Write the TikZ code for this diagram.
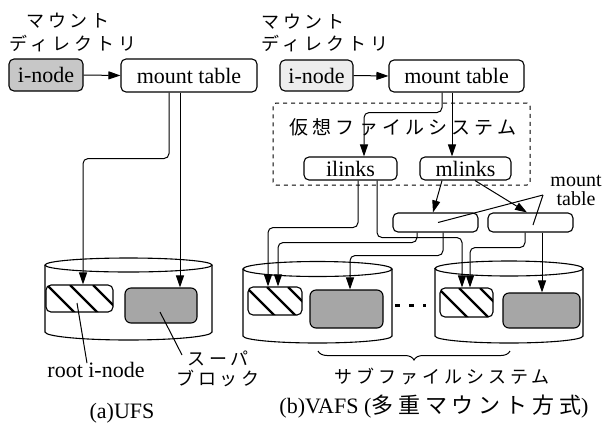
\documentclass[tikz,border=0pt]{standalone}
\usepackage{fontspec}
\setmainfont{Liberation Serif}
\newfontfamily\jp[LetterSpace=22]{Noto Sans CJK JP}
\usetikzlibrary{arrows.meta,calc,decorations.pathreplacing}
\tikzset{
  box/.style={draw, line width=1.1pt, rounded corners=5pt, inner sep=0pt, font=\fontsize{22}{24}\selectfont},
  hatchbox/.style={draw, line width=1.1pt, rounded corners=5pt, inner sep=0pt,
    path picture={\foreach \s in {#1}{\draw[line width=2.2pt] ($(path picture bounding box.north west)+(\s,0)$) -- ++(40,40);}}},
  sbbox/.style={draw, line width=1.1pt, rounded corners=6pt, fill=black!35, inner sep=0pt},
  arr/.style={-{Triangle[length=12pt,width=8pt]}, line width=1pt},
  rc/.style={rounded corners=5pt},
  ln/.style={line width=1pt},
  cyl/.style={line width=1.1pt},
  jpl/.style={font=\fontsize{18}{20}\selectfont\jp, inner sep=0pt, align=center},
  latl/.style={font=\fontsize{22}{16}\selectfont, inner sep=0pt, align=center}
}
\begin{document}
\begin{tikzpicture}[x=1pt,y=-1pt]
\useasboundingbox (0,0) rectangle (607,424);
% ---------- (a) UFS ----------
\node[jpl] (mdA1) at (68,21) {マウント};
\node[jpl] (mdA2) at (73,44) {ディレクトリ};
\node[box, fill=black!22, minimum width=74pt, minimum height=32pt] (inA) at (46,75) {i-node};
\node[box, minimum width=136pt, minimum height=33pt] (mtA) at (189,75.5) {mount table};
\draw[arr] (inA.east) -- (mtA.west);
% disk A
\draw[cyl] (128.5,265) ellipse [x radius=83.5, y radius=7];
\draw[cyl] (45,265) -- (45,332) arc[start angle=180, end angle=0, x radius=83.5, y radius=8] -- (212,265);
\node[hatchbox={1,24,47}, minimum width=67pt, minimum height=27pt] (riA) at (79.5,298.5) {};
\node[sbbox, minimum width=72pt, minimum height=35pt] (sbA) at (161,305.5) {};
\draw[arr, rc] ([xshift=-20pt]mtA.south) -- ++(0,66) -| ([xshift=3.5pt]riA.north);
\draw[arr] ([xshift=-9pt]mtA.south) -- ([xshift=-9pt]mtA.south |- sbA.north);
\node[latl] (rilab) at (96,370) {root i-node};
\draw[ln] ([xshift=-9pt,yshift=-1pt]rilab.north) -- ([xshift=-2.5pt,yshift=-4.5pt]riA.center);
\node[jpl] (sblab) at (218,369) {スーパ\\ブロック};
\coordinate (sbp) at (182,355);
\draw[ln] (sbp) -- ([xshift=-1pt,yshift=-6.5pt]sbA.center);
\node[latl] (capA) at (122,413) {(a)UFS};
% ---------- (b) VAFS ----------
\node[jpl] (mdB1) at (303,22) {マウント};
\node[jpl] (mdB2) at (325,44) {ディレクトリ};
\node[box, fill=black!7, minimum width=73pt, minimum height=31pt] (inB) at (316.5,75.5) {i-node};
\node[box, minimum width=135pt, minimum height=32pt] (mtB) at (456.5,76) {mount table};
\draw[arr] (inB.east) -- (mtB.west);
\node[draw, line width=1pt, dash pattern=on 4pt off 4pt, rounded corners=3pt, minimum width=257pt, minimum height=82pt] (vfs) at (401.5,144) {};
\node[jpl, font=\fontsize{19}{21}\selectfont\jp] (vfslab) at (403,127) {仮想ファイルシステム};
\node[box, minimum width=93pt, minimum height=23pt] (ilinks) at (350.5,168.5) {ilinks};
\node[box, minimum width=91pt, minimum height=23pt] (mlinks) at (465.5,168.5) {mlinks};
\node[box, minimum width=85pt, minimum height=19pt] (mtC) at (435.5,222.5) {};
\node[box, minimum width=85pt, minimum height=19pt] (mtD) at (530.5,222.5) {};
% disks B, C
\draw[cyl] (317.5,269) ellipse [x radius=74.5, y radius=7.5];
\draw[cyl] (243,269) -- (243,336) arc[start angle=180, end angle=0, x radius=74.5, y radius=7] -- (392,269);
\draw[cyl] (509,268.5) ellipse [x radius=74, y radius=7.5];
\draw[cyl] (435,268.5) -- (435,336) arc[start angle=180, end angle=0, x radius=74, y radius=7] -- (583,268.5);
\node[hatchbox={-2,19,40}, minimum width=54pt, minimum height=28pt] (riB) at (275,301) {};
\node[sbbox, minimum width=73pt, minimum height=38pt] (sbB) at (346.5,309) {};
\node[hatchbox={-2,19,40}, minimum width=53pt, minimum height=29pt] (riC) at (466.5,302.5) {};
\node[sbbox, minimum width=77pt, minimum height=35pt] (sbC) at (541.5,310.5) {};
% dots between disks
\fill (395,304) rectangle (400,306.5);
\fill (409,304) rectangle (414,306.5);
\fill (423,303.5) rectangle (426,306.5);
% connectors
\draw[arr, rc] ([xshift=-14.5pt]mtB.south) -- ++(0,20) -| ([xshift=13.5pt]ilinks.north);
\draw[arr] ([xshift=-4.5pt]mtB.south) -- ([xshift=-4.5pt]mtB.south |- mlinks.north);
\draw[arr, rc] ([xshift=7.5pt]ilinks.south) -- ++(0,47) -| ([xshift=-7pt]riB.north);
\draw[arr, rc] ([xshift=26.5pt]ilinks.south) -- ++(0,57) -| ([xshift=-4.5pt]riC.north);
\draw[arr] ([xshift=-23.5pt]mlinks.south) -- ([xshift=-2.5pt]mtC.north);
\draw[arr] ([xshift=9.5pt]mlinks.south) -- ([xshift=-3.5pt]mtD.north);
\draw[arr, rc] ([xshift=-18.5pt]mtC.south) -- ++(0,10) -| ([xshift=3pt]riB.north);
\draw[arr, rc] ([xshift=7.5pt]mtC.south) -- ++(0,23) -| ([xshift=3.5pt]sbB.north);
\draw[arr, rc] ([xshift=-5.5pt]mtD.south) -- ++(0,15) -| ([xshift=3.5pt]riC.north);
\draw[arr] ([xshift=11.5pt]mtD.south) -- ([xshift=11.5pt]mtD.south |- sbC.north);
% mount table label
\node[latl, font=\fontsize{20}{19}\selectfont] (mtlab) at (576,190) {mount\\table};
\coordinate (lp) at (543,195);
\draw[ln] (lp) -- ([xshift=2.5pt]mtC.center);
\draw[ln] (lp) -- ([xshift=2.5pt,yshift=-2.5pt]mtD.center);
% brace and captions
\draw[ln, decorate, decoration={brace, amplitude=9pt}] (510,351) -- (318,351);
\node[jpl] (subfs) at (442,376) {サブファイルシステム};
\node[latl] (capB) at (434,407) {(b)VAFS ({\jp 多重マウント方式})};
\end{tikzpicture}
\end{document}
